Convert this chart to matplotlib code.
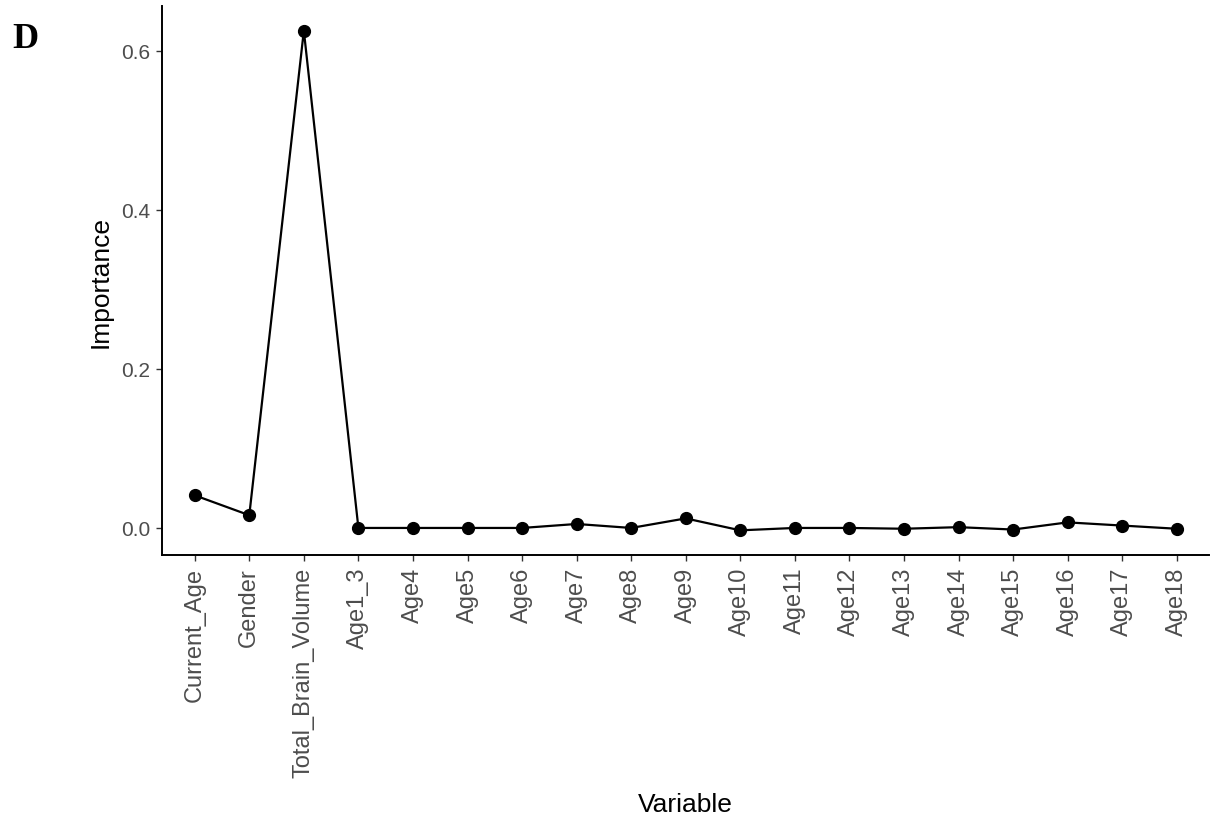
import matplotlib
matplotlib.use("Agg")
import matplotlib.pyplot as plt

plt.rcParams["font.family"] = ["Liberation Sans", "DejaVu Sans"]

variables = [
    "Current_Age", "Gender", "Total_Brain_Volume", "Age1_3", "Age4", "Age5",
    "Age6", "Age7", "Age8", "Age9", "Age10", "Age11", "Age12", "Age13",
    "Age14", "Age15", "Age16", "Age17", "Age18",
]
importance = [
    0.041, 0.016, 0.625, 0.000, 0.000, 0.000,
    0.000, 0.005, 0.000, 0.012, -0.003, 0.000, 0.000, -0.001,
    0.001, -0.002, 0.007, 0.003, -0.001,
]
y_ticks = [0.0, 0.2, 0.4, 0.6]

fig = plt.figure(figsize=(12.18, 8.28), dpi=100)
ax = fig.add_axes([0.133, 0.3285, 0.860, 0.663])

x = list(range(len(variables)))
ax.plot(x, importance, "-o", color="black", linewidth=1.6, markersize=8.5)

ax.set_xlim(-0.6, len(variables) - 1 + 0.6)
ax.set_ylim(-0.034, 0.656)
ax.set_xticks(x)
ax.set_xticklabels(variables, rotation=90, color="#4D4D4D", fontsize=17)
ax.set_yticks(y_ticks)
ax.set_yticklabels([f"{v:.1f}" for v in y_ticks], color="#4D4D4D", fontsize=15)
ax.tick_params(axis="both", length=4.5, width=1, color="#333333", pad=4)

for side in ["top", "right"]:
    ax.spines[side].set_visible(False)
for side in ["left", "bottom"]:
    ax.spines[side].set_linewidth(1.4)

ax.set_xlabel("Variable", fontsize=19)
ax.set_ylabel("Importance", fontsize=19)
ax.xaxis.set_label_coords(0.5, -0.432)
ax.yaxis.set_label_coords(-0.047, 0.5)

fig.text(0.010, 0.942, "D", fontsize=26, fontweight="bold",
         family=["Liberation Serif", "DejaVu Serif"])

fig.savefig("out.png", dpi=100)
